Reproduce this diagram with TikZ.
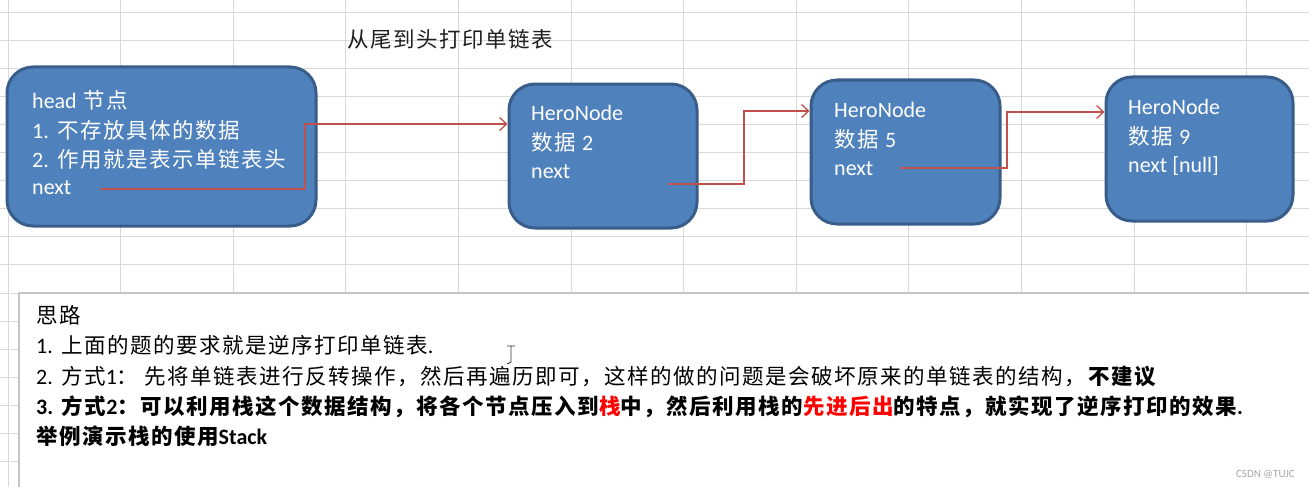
\documentclass[tikz,border=0pt]{standalone}
\usepackage{fontspec}
\setmainfont{Noto Sans CJK SC}[LetterSpace=7]
\newfontfamily\latf{Carlito}
\usetikzlibrary{arrows.meta}
\definecolor{boxfill}{HTML}{4F81BD}
\definecolor{boxline}{HTML}{385D8A}
\definecolor{arrred}{HTML}{C0504D}
\definecolor{gridc}{HTML}{D9D9D9}
\definecolor{framec}{HTML}{C4C4C4}
\definecolor{hotred}{HTML}{FF0000}
\definecolor{wmark}{HTML}{A6A6A6}
\newcommand\lt[1]{{\latf\fontsize{22}{24}\selectfont #1}}
\tikzset{
  hbox/.style={draw=boxline, fill=boxfill, line width=3pt, rounded corners=26pt, inner sep=0pt},
  bt/.style={anchor=base west, inner sep=0pt, text=white, font=\fontsize{21.5}{24}\selectfont},
  tl/.style={anchor=base west, inner sep=0pt, text=black, font=\fontsize{21.5}{24}\selectfont},
  tlb/.style={tl, font=\fontsize{21.5}{24}\selectfont\bfseries},
  arr/.style={draw=arrred, line width=1.3pt, -{Straight Barb[length=7pt,width=13pt]}},
  gline/.style={draw=gridc, line width=0.9pt},
}
\begin{document}
\begin{tikzpicture}[x=1pt,y=-1pt]
\useasboundingbox (0,0) rectangle (1309,487);
\fill[white] (0,0) rectangle (1309,487);
% spreadsheet grid
\foreach \k in {0,...,11} {\draw[gline] ({8+112.6*\k},0) -- ({8+112.6*\k},293);}
\foreach \k in {0,...,9} {\draw[gline] (0,{12+28.1*\k}) -- (1309,{12+28.1*\k});}
\draw[gline] (8,293) -- (8,487);
\foreach \k in {10,...,17} {\draw[gline] (0,{12+28.1*\k}) -- (19,{12+28.1*\k});}
% title
\node[tl, text=black!88] (title) at (347,48) {从尾到头打印单链表};
% list boxes
\node[hbox, minimum width=309pt, minimum height=159pt] (h) at (161.5,146.5) {};
\node[hbox, minimum width=188pt, minimum height=144pt] (b2) at (603,156) {};
\node[hbox, minimum width=189pt, minimum height=144pt] (b3) at (905.5,152) {};
\node[hbox, minimum width=187pt, minimum height=144pt] (b4) at (1199.5,149) {};
% head text
\node[bt] (h1) at (32,108.5) {\lt{head} 节点};
\node[bt] (h2) at (32,138) {\lt{1.} 不存放具体的数据};
\node[bt] (h3) at (32,167.5) {\lt{2.} 作用就是表示单链表头};
\node[bt] (h4) at (32,194) {\lt{next}};
% node 2
\node[bt] (b2a) at (531,120) {\lt{HeroNode}};
\node[bt] (b2b) at (531,150.5) {数据 \lt{2}};
\node[bt] (b2c) at (531,178) {\lt{next}};
% node 3
\node[bt] (b3a) at (834,117) {\lt{HeroNode}};
\node[bt] (b3b) at (834,147) {数据 \lt{5}};
\node[bt] (b3c) at (834,175) {\lt{next}};
% node 4
\node[bt] (b4a) at (1128,114) {\lt{HeroNode}};
\node[bt] (b4b) at (1128,144) {数据 \lt{9}};
\node[bt] (b4c) at (1128,172) {\lt{next [null]}};
% connectors
\coordinate (s1) at (100,189);
\coordinate (t1) at (305,124);
\coordinate (s2) at (668,184);
\coordinate (t2) at (744,111);
\coordinate (s3) at (900,168);
\coordinate (t3) at (1007,112);
\draw[arr] (s1) -| (t1) -- (b2.west |- t1);
\draw[arr] (s2) -| (t2) -- (b3.west |- t2);
\draw[arr] (s3) -| (t3) -- (b4.west |- t3);
% explanation text box
\draw[draw=framec, line width=2pt, fill=white] (19,293) rectangle (1330,500);
\node[tl] (p0) at (36,323) {思路};
\node[tl] (p1) at (36,353.5) {\lt{1.} 上面的题的要求就是逆序打印单链表\lt{.}};
\node[tl] (p2) at (36,384) {\lt{2.} 方式\lt{1}： 先将单链表进行反转操作，然后再遍历即可，这样的做的问题是会破坏原来的单链表的结构，\textbf{不建议}};
\node[tlb] (p3) at (36,414) {\lt{3.} 方式\lt{2}：可以利用栈这个数据结构，将各个节点压入到{\color{hotred}栈}中，然后利用栈的{\color{hotred}先进后出}的特点，就实现了逆序打印的效果\lt{.}};
\node[tlb] (p4) at (36,444) {举例演示栈的使用\lt{Stack}};
% text cursor
\draw[line width=0.9pt, black!80] (507,346) -- (515,346) (511,346) -- (511,362) -- (507,364);
% watermark
\node[anchor=base east, inner sep=0pt, text=wmark, font=\latf\fontsize{11}{12}\selectfont] (wm) at (1295,477) {CSDN @TUJC};
\end{tikzpicture}
\end{document}
